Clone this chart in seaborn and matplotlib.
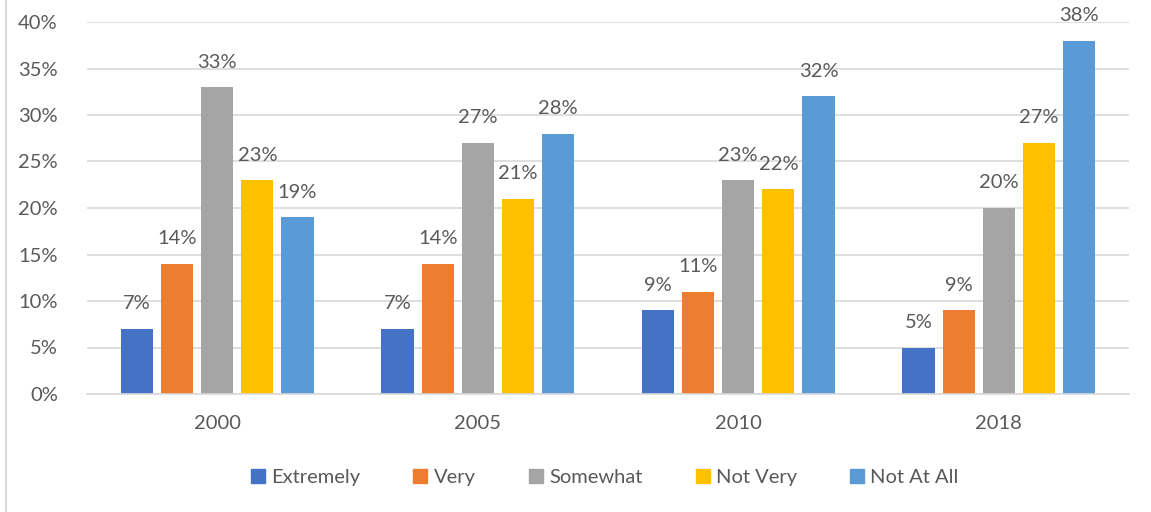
import matplotlib
matplotlib.use("Agg")
import matplotlib.pyplot as plt
import matplotlib.lines as mlines
import seaborn as sns
import pandas as pd
from matplotlib.ticker import PercentFormatter

years = ["2000", "2005", "2010", "2018"]
levels = ["Extremely", "Very", "Somewhat", "Not Very", "Not At All"]
extremely = [7, 7, 9, 5]
very = [14, 14, 11, 9]
somewhat = [33, 27, 23, 20]
not_very = [23, 21, 22, 27]
not_at_all = [19, 28, 32, 38]

colors = ["#4472C4", "#ED7D31", "#A5A5A5", "#FFC000", "#5B9BD5"]
text_color = "#595959"
fs = 14.5

rows = []
for level, vals in zip(levels, [extremely, very, somewhat, not_very, not_at_all]):
    for y, v in zip(years, vals):
        rows.append({"Year": y, "Level": level, "Value": v})
df = pd.DataFrame(rows)

sns.set_theme(style="white")
plt.rcParams["font.family"] = ["Lato", "DejaVu Sans"]

fig = plt.figure(figsize=(11.51, 5.12), dpi=100)
ax = fig.add_axes([87 / 1151, 1 - 394 / 512, (1129 - 87) / 1151, (394 - 22) / 512])

sns.barplot(data=df, x="Year", y="Value", hue="Level", order=years, hue_order=levels,
            palette=colors, width=0.77, gap=0.2, ax=ax, saturation=1, errorbar=None,
            linewidth=0)

ax.set_ylim(0, 40)
ax.set_yticks(range(0, 41, 5))
ax.yaxis.set_major_formatter(PercentFormatter(decimals=0))
ax.grid(axis="y", color="#D9D9D9", linewidth=1.2)
ax.set_axisbelow(True)
for s in ["top", "right", "left"]:
    ax.spines[s].set_visible(False)
ax.spines["bottom"].set_color("#D9D9D9")
ax.spines["bottom"].set_linewidth(1.2)
ax.set_xlabel("")
ax.set_ylabel("")
ax.tick_params(axis="both", length=0, labelsize=fs, labelcolor=text_color)
ax.tick_params(axis="x", pad=15)
ax.tick_params(axis="y", pad=21)

for container in ax.containers:
    for bar in container:
        h = bar.get_height()
        ax.annotate(f"{h:.0f}%", (bar.get_x() + bar.get_width() / 2, h),
                    xytext=(0, 18), textcoords="offset points",
                    ha="center", va="center", fontsize=fs, color=text_color)

ax.get_legend().remove()
handles = [mlines.Line2D([], [], marker="s", linestyle="none", markersize=10.5,
                         markerfacecolor=c, markeredgecolor=c) for c in colors]
fig.legend(handles, levels, loc="center", bbox_to_anchor=(0.525, 1 - 477 / 512),
           ncol=5, frameon=False, fontsize=fs, labelcolor=text_color,
           handlelength=0.8, handletextpad=0.25, columnspacing=2.6)

# outer frame edge on the left
fig.add_artist(mlines.Line2D([6 / 1151, 6 / 1151], [0, 1], color="#D9D9D9",
                             linewidth=1.5, transform=fig.transFigure))

fig.savefig("out.png", dpi=100)
